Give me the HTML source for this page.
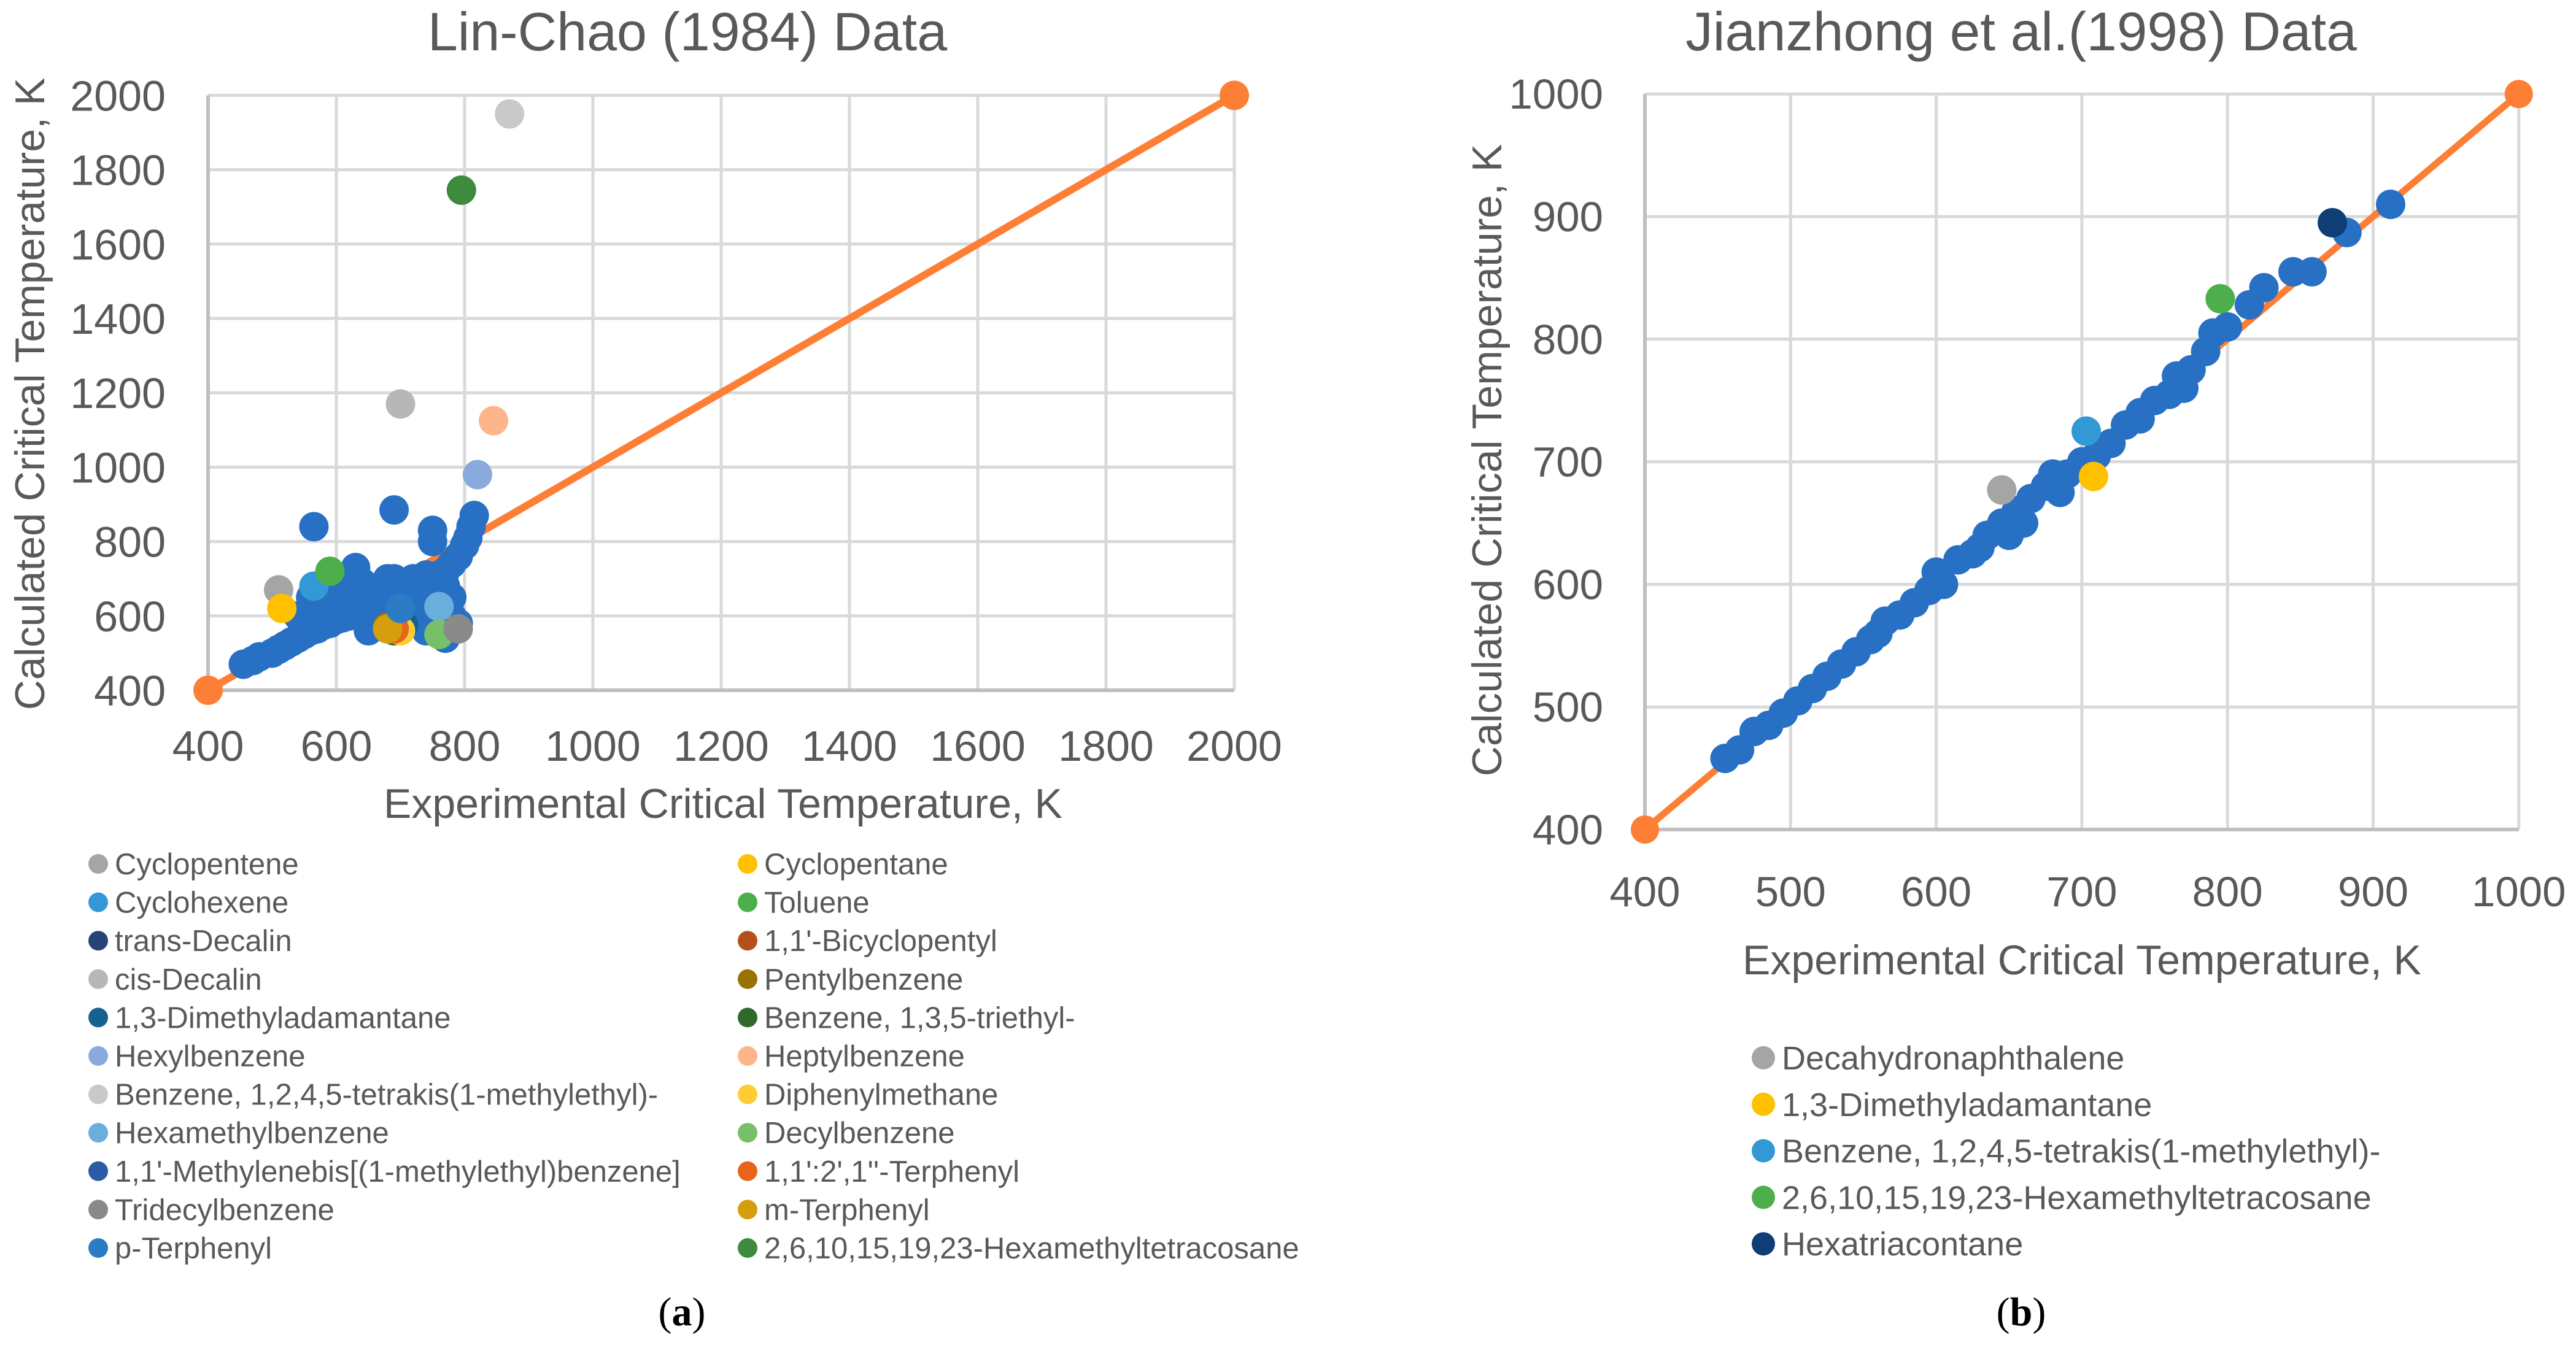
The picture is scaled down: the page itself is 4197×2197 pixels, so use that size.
<!DOCTYPE html>
<html><head><meta charset="utf-8"><style>
html,body{margin:0;padding:0;background:#fff}
svg{display:block}
text{font-family:"Liberation Sans",sans-serif;fill:#595959}
</style></head><body>
<svg id="fig" width="4197" height="2197" viewBox="0 0 4197 2197" xmlns="http://www.w3.org/2000/svg">
<g id="left"></g>
<g id="right"></g>
<text x="1111" y="2160" font-size="66" text-anchor="middle" style="font-family:'Liberation Serif',serif;fill:#000">(<tspan font-weight="bold">a</tspan>)</text>
<text x="3293" y="2160" font-size="66" text-anchor="middle" style="font-family:'Liberation Serif',serif;fill:#000">(<tspan font-weight="bold">b</tspan>)</text>
</svg>
<script>
// ---- data: chart a ----
const aTicks = [400,600,800,1000,1200,1400,1600,1800,2000];
const aBlueX = [455,470,480,500,510,520,530,540,550,560,570,580,590,600,610,620,630,640,650,660,670,680,690,700,710,720,730,740,750,760,770,780,790,800,805,810,815,540,560,580,600,620,630,640,660,680,690,700,720,740,760,770,780,780,790,700,660,650,680,720,740,770,760,600,580,620,560,700,720,740,720,565,690,750,750];
const aBlueY = [470,480,490,500,510,520,530,540,550,560,565,575,580,590,595,600,605,610,620,625,630,640,650,660,665,670,680,690,700,710,720,740,760,790,810,840,870,600,620,640,650,700,730,690,650,700,700,690,700,710,660,680,600,650,580,600,590,560,570,580,560,540,590,620,600,660,650,640,640,650,600,840,885,830,800];
const aSpecialNames = ["Cyclopentene","Cyclopentane","Cyclohexene","Toluene","trans-Decalin","1,1'-Bicyclopentyl","cis-Decalin","Pentylbenzene","1,3-Dimethyladamantane","Benzene, 1,3,5-triethyl-","Hexylbenzene","Heptylbenzene","Benzene, 1,2,4,5-tetrakis(1-methylethyl)-","Diphenylmethane","Hexamethylbenzene","Decylbenzene","1,1'-Methylenebis[(1-methylethyl)benzene]","1,1':2',1''-Terphenyl","Tridecylbenzene","m-Terphenyl","p-Terphenyl","2,6,10,15,19,23-Hexamethyltetracosane"];
const aSpecialX = [510,515,565,590,700,690,700,680,705,690,820,845,870,700,760,760,690,690,790,680,700,795];
const aSpecialY = [670,620,680,720,575,570,1170,570,575,560,980,1125,1950,560,625,550,565,565,565,565,620,1745];
const aColors = ["#a5a5a5","#ffc000","#3399d6","#4caf4c","#264478","#b5501a","#b7b7b7","#997300","#16628f","#2e6a2a","#8aaadd","#fdb68a","#c9c9c9","#ffcd33","#6aaedb","#77c069","#2b5ba5","#e8641b","#8a8a8a","#d69e0c","#2c7cc5","#3e8a3e"];
// ---- data: chart b ----
const bTicks = [400,500,600,700,800,900,1000];
const bBlueX = [455,465,475,485,495,505,515,525,535,545,555,565,575,585,595,605,615,625,635,645,655,665,675,685,690,700,710,720,730,740,750,760,765,775,785,790,800,815,825,845,858,882,912,680,650,630,600,560,660,740,770];
const bBlueY = [458,465,480,485,495,505,515,525,535,545,555,570,575,585,595,600,620,625,640,650,660,670,680,675,690,700,705,715,730,740,750,755,770,775,790,805,810,828,842,855,855,887,910,690,640,630,610,560,650,735,760];
const bSpecialNames = ["Decahydronaphthalene","1,3-Dimethyladamantane","Benzene, 1,2,4,5-tetrakis(1-methylethyl)-","2,6,10,15,19,23-Hexamethyltetracosane","Hexatriacontane"];
const bSpecialX = [645,708,703,795,872];
const bSpecialY = [677,688,725,833,895];
const bColors = ["#a5a5a5","#ffc000","#3399d6","#4caf4c","#0e3e75"];

const NS="http://www.w3.org/2000/svg";
function mk(parent,tag,attrs,txt){const e=document.createElementNS(NS,tag);for(const k in attrs)e.setAttribute(k,attrs[k]);if(txt!==undefined)e.textContent=txt;parent.appendChild(e);return e;}
const BLUE="#2870c4", ORANGE="#fd7f35";

// chart a scales
const ax=v=>339+(v-400)*1.045, ay=v=>1125-(v-400)*0.606;
const L=document.getElementById('left');
aTicks.forEach(t=>{
  const g=mk(L,'line',{x1:ax(t),x2:ax(t),y1:ay(2000),y2:ay(400),stroke:'#d9d9d9','stroke-width':5});
  
  
  const h=mk(L,'line',{x1:ax(400),x2:ax(2000),y1:ay(t),y2:ay(t),stroke:'#d9d9d9','stroke-width':5});
  
  
  const xl=mk(L,'text',{x:ax(t),y:1240,'font-size':70,'text-anchor':'middle'},t);
  
  
  const yl=mk(L,'text',{x:270,y:ay(t)+25,'font-size':70,'text-anchor':'end'},t);
  
  
});
let e;
e=mk(L,'line',{x1:ax(400),x2:ax(2000),y1:ay(400),y2:ay(400),stroke:'#bfbfbf','stroke-width':6});


e=mk(L,'line',{x1:ax(400),x2:ax(400),y1:ay(2000),y2:ay(400),stroke:'#bfbfbf','stroke-width':6});


e=mk(L,'text',{x:1120,y:82,'font-size':88,'text-anchor':'middle'},'Lin-Chao (1984) Data');


e=mk(L,'text',{x:1178,y:1333,'font-size':68,'text-anchor':'middle'},'Experimental Critical Temperature, K');


e=mk(L,'text',{x:0,y:0,'font-size':68,'text-anchor':'middle',transform:'translate(72,642) rotate(-90)'},'Calculated Critical Temperature, K');


e=mk(L,'line',{x1:ax(400),y1:ay(400),x2:ax(2000),y2:ay(2000),stroke:ORANGE,'stroke-width':12});


[400,2000].forEach(v=>{const c=mk(L,'circle',{cx:ax(v),cy:ay(v),r:24,fill:ORANGE});
  
  });
aBlueX.forEach((x,i)=>{const c=mk(L,'circle',{cx:ax(x),cy:ay(aBlueY[i]),r:24,fill:BLUE});
  
  });
aSpecialX.forEach((x,i)=>{const c=mk(L,'circle',{cx:ax(x),cy:ay(aSpecialY[i]),r:24,fill:aColors[i]});
  
  });
aSpecialNames.forEach((n,i)=>{
  const col=i%2, row=Math.floor(i/2);
  const x0=col?1218:160, y0=1408+row*62.6;
  const m=mk(L,'circle',{cx:x0,cy:y0,r:16,fill:aColors[i]});
  
  
  const t=mk(L,'text',{x:x0+27,y:y0+17,'font-size':49},n);
  
  
});

// chart b
const bx=v=>2680+(v-400)*2.373, by=v=>1352-(v-400)*1.998;
const R=document.getElementById('right');
bTicks.forEach(t=>{
  const g=mk(R,'line',{x1:bx(t),x2:bx(t),y1:by(1000),y2:by(400),stroke:'#d9d9d9','stroke-width':5});
  
  
  const h=mk(R,'line',{x1:bx(400),x2:bx(1000),y1:by(t),y2:by(t),stroke:'#d9d9d9','stroke-width':5});
  
  
  const xl=mk(R,'text',{x:bx(t),y:1477,'font-size':69,'text-anchor':'middle'},t);
  
  
  const yl=mk(R,'text',{x:2612,y:by(t)+24,'font-size':69,'text-anchor':'end'},t);
  
  
});
e=mk(R,'line',{x1:bx(400),x2:bx(1000),y1:by(400),y2:by(400),stroke:'#bfbfbf','stroke-width':6});


e=mk(R,'line',{x1:bx(400),x2:bx(400),y1:by(1000),y2:by(400),stroke:'#bfbfbf','stroke-width':6});


e=mk(R,'text',{x:3293,y:82,'font-size':89,'text-anchor':'middle'},'Jianzhong et al.(1998) Data');


e=mk(R,'text',{x:3392,y:1588,'font-size':68,'text-anchor':'middle'},'Experimental Critical Temperature, K');


e=mk(R,'text',{x:0,y:0,'font-size':68,'text-anchor':'middle',transform:'translate(2446,750) rotate(-90)'},'Calculated Critical Temperature, K');


e=mk(R,'line',{x1:bx(400),y1:by(400),x2:bx(1000),y2:by(1000),stroke:ORANGE,'stroke-width':11});


[400,1000].forEach(v=>{const c=mk(R,'circle',{cx:bx(v),cy:by(v),r:23,fill:ORANGE});
  
  });
bBlueX.forEach((x,i)=>{const c=mk(R,'circle',{cx:bx(x),cy:by(bBlueY[i]),r:24,fill:BLUE});
  
  });
bSpecialX.forEach((x,i)=>{const c=mk(R,'circle',{cx:bx(x),cy:by(bSpecialY[i]),r:24,fill:bColors[i]});
  
  });
bSpecialNames.forEach((n,i)=>{
  const y0=1724+i*75.8;
  const m=mk(R,'circle',{cx:2873,cy:y0,r:19,fill:bColors[i]});
  
  
  const t=mk(R,'text',{x:2903,y:y0+19,'font-size':54},n);
  
  
});
</script>
</body></html>
